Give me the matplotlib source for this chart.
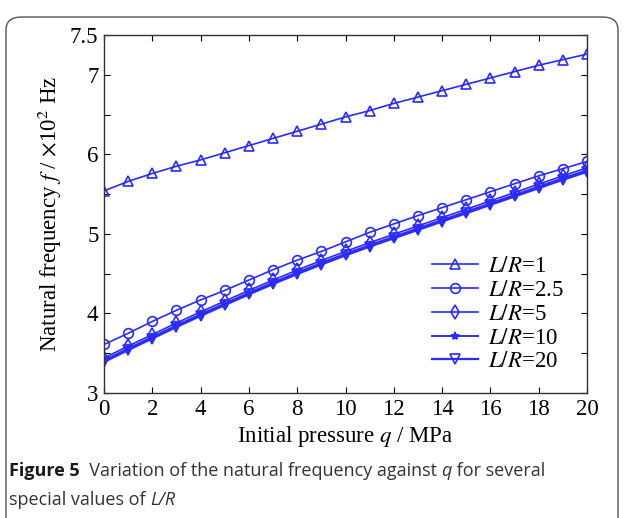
import matplotlib
matplotlib.use("Agg")
import matplotlib.pyplot as plt
from matplotlib.patches import FancyBboxPatch

q = list(range(0, 21))
lr_1 = [5.54, 5.66, 5.76, 5.85, 5.93, 6.02, 6.11, 6.20, 6.29, 6.38, 6.47,
        6.55, 6.64, 6.72, 6.80, 6.88, 6.96, 7.04, 7.12, 7.19, 7.26]
lr_2_5 = [3.61, 3.75, 3.90, 4.04, 4.17, 4.29, 4.42, 4.55, 4.67, 4.78, 4.90,
          5.02, 5.125, 5.23, 5.33, 5.43, 5.53, 5.63, 5.73, 5.82, 5.91]
lr_5 = [3.44, 3.59, 3.735, 3.88, 4.02, 4.155, 4.29, 4.42, 4.545, 4.665, 4.78,
        4.89, 4.995, 5.10, 5.205, 5.31, 5.415, 5.52, 5.625, 5.73, 5.83]
lr_10 = [3.41, 3.56, 3.705, 3.85, 3.99, 4.125, 4.26, 4.39, 4.515, 4.635, 4.75,
         4.86, 4.965, 5.07, 5.175, 5.28, 5.385, 5.49, 5.595, 5.70, 5.80]
lr_20 = [3.39, 3.54, 3.685, 3.83, 3.97, 4.105, 4.24, 4.37, 4.495, 4.615, 4.73,
         4.84, 4.945, 5.05, 5.155, 5.26, 5.365, 5.47, 5.575, 5.68, 5.78]
series_labels = [r'$L/R$=1', r'$L/R$=2.5', r'$L/R$=5', r'$L/R$=10', r'$L/R$=20']
x_ticks = list(range(0, 21, 2))
y_ticks = [3, 3.5, 4, 4.5, 5, 5.5, 6, 6.5, 7, 7.5]
y_ticklabels = ['3', '', '4', '', '5', '', '6', '', '7', '7.5']
caption_line1 = [('Figure 5', 'bold', 'normal'),
                 ('  Variation of the natural frequency against ', 'normal', 'normal'),
                 ('q', 'normal', 'italic'),
                 (' for several', 'normal', 'normal')]
caption_line2 = [('special values of ', 'normal', 'normal'),
                 ('L/R', 'normal', 'italic')]

plt.rcParams['mathtext.fontset'] = 'stix'
serif = ['Liberation Serif', 'DejaVu Serif']
FS = 16.5

W, H = 624, 518
fig = plt.figure(figsize=(W / 100, H / 100), dpi=100)

# rounded border
border = FancyBboxPatch((6 / W, -0.05), 612 / W, (H - 17) / H + 0.05,
                        boxstyle="round,pad=0,rounding_size=0.025",
                        transform=fig.transFigure, fill=False,
                        edgecolor='#555555', linewidth=1.0, clip_on=False)
fig.patches.append(border)

left, right, top, bottom = 104, 587, 35, 393
ax = fig.add_axes([left / W, 1 - bottom / H, (right - left) / W, (bottom - top) / H])

color = '#2b2bff'
styles = [
    dict(marker='^', mfc='none', ms=7, lw=1.2),
    dict(marker='o', mfc='none', ms=7, lw=1.2),
    dict(marker='d', mfc='none', ms=7, lw=1.2),
    dict(marker='*', mfc=color, ms=6, lw=1.4),
    dict(marker='v', mfc='none', ms=7, lw=1.6),
]
for ys, lab, st in zip([lr_1, lr_2_5, lr_5, lr_10, lr_20], series_labels, styles):
    ax.plot(q, ys, color=color, mec=color, mew=1.2, label=lab, **st)

ax.set_xlim(0, 20)
ax.set_ylim(3, 7.5)
ax.set_xticks(x_ticks)
ax.set_yticks(y_ticks)
ax.set_yticklabels(y_ticklabels)
ax.tick_params(direction='in', top=True, right=True, length=4, width=0.8,
               labelsize=FS, pad=4)
for lab in ax.get_xticklabels() + ax.get_yticklabels():
    lab.set_family(serif)
for s in ax.spines.values():
    s.set_linewidth(1.0)
    s.set_color('#333333')

ax.set_xlabel(r'Initial pressure $q$ / MPa', fontsize=FS, family=serif, labelpad=3)
ax.set_ylabel(r'Natural frequency $f$ / $\times$10$^2$ Hz', fontsize=FS,
              family=serif, labelpad=4)

leg = ax.legend(loc='lower right', frameon=False, prop={'family': serif, 'size': FS},
                handlelength=2.0, labelspacing=0.12, handletextpad=0.45,
                bbox_to_anchor=(0.995, 0.0))

# caption
renderer = fig.canvas.get_renderer()
cap_fs = 13


def draw_line(pieces, y_px):
    x = 9
    for txt, weight, style in pieces:
        t = fig.text(x / W, 1 - y_px / H, txt, fontsize=cap_fs, va='center',
                     family=['Open Sans', 'DejaVu Sans'], weight=weight,
                     style=style, color='#1a1a1a' if weight == 'bold' else '#333333')
        bb = t.get_window_extent(renderer=renderer)
        x += bb.width


draw_line(caption_line1, 471)
draw_line(caption_line2, 500)

plt.savefig('out.png', dpi=100)
